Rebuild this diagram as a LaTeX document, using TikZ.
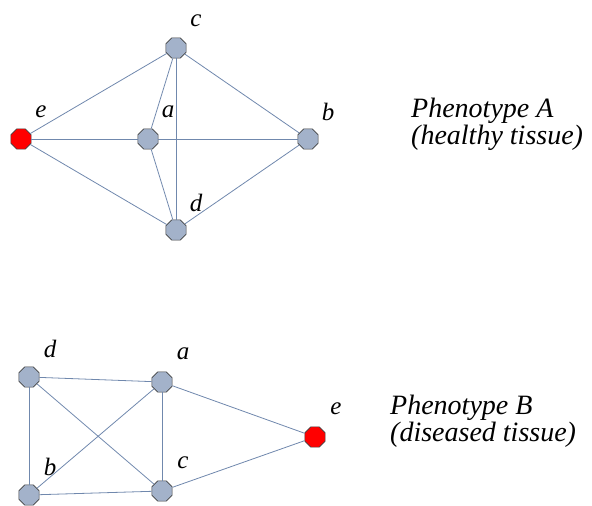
\documentclass[tikz,border=0pt]{standalone}
\usepackage{fontspec}
\setmainfont{Liberation Serif}
\usetikzlibrary{shapes.geometric,positioning}
\definecolor{vfill}{HTML}{A3B2CA}
\definecolor{vedge}{HTML}{7088AD}
\definecolor{vline}{HTML}{404040}
\tikzset{
  vtx/.style={regular polygon, regular polygon sides=8, draw=vline, line width=0.6pt,
              fill=vfill, minimum size=22pt, inner sep=0pt},
  hit/.style={vtx, fill=red},
  lbl/.style={font=\fontsize{25}{25}\selectfont\itshape, inner sep=0pt},
  ed/.style={draw=vedge, line width=0.8pt},
  phcap/.style={font=\fontsize{28}{27}\selectfont\itshape, align=left, inner sep=0pt, anchor=west},
}
\begin{document}
\begin{tikzpicture}[x=1pt,y=-1pt]
\useasboundingbox (0,0) rectangle (592,506);
% phenotype A
\node[vtx] (c1) at (176,48) {};
\node[hit] (e1) at (21,139) {};
\node[vtx] (a1) at (148,139) {};
\node[vtx] (b1) at (308,139) {};
\node[vtx] (d1) at (176,230) {};
\draw[ed] (e1)--(c1); \draw[ed] (e1)--(a1); \draw[ed] (e1)--(d1);
\draw[ed] (c1)--(a1); \draw[ed] (c1)--(d1); \draw[ed] (c1)--(b1);
\draw[ed] (a1)--(b1); \draw[ed] (a1)--(d1); \draw[ed] (b1)--(d1);
\foreach \v in {a,b,c,d,e}
  \node[lbl] (l\v1) at ([shift={(20,-27)}]\v1) {\v};
\node[phcap] (capA) at (411,124) {Phenotype A\\(healthy tissue)};
% phenotype B
\node[vtx] (d2) at (29,377) {};
\node[vtx] (a2) at (162,382) {};
\node[hit] (e2) at (315,437) {};
\node[vtx] (b2) at (29,495) {};
\node[vtx] (c2) at (162,491) {};
\draw[ed] (d2)--(a2); \draw[ed] (d2)--(b2); \draw[ed] (d2)--(c2);
\draw[ed] (a2)--(b2); \draw[ed] (a2)--(c2); \draw[ed] (a2)--(e2);
\draw[ed] (c2)--(e2); \draw[ed] (b2)--(c2);
\foreach \v in {a,b,c,d,e}
  \node[lbl] (l\v2) at ([shift={(21,-28)}]\v2) {\v};
\node[phcap] (capB) at (390,421) {Phenotype B\\(diseased tissue)};
\end{tikzpicture}
\end{document}
